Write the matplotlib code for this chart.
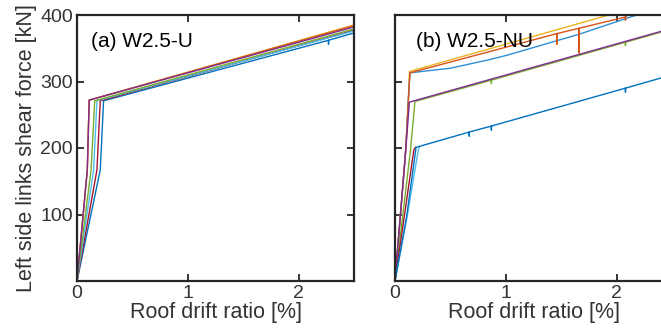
import matplotlib
matplotlib.use("Agg")
import matplotlib.pyplot as plt

plt.rcParams['font.family'] = ['Liberation Sans', 'DejaVu Sans']

# MATLAB default colour order
C_BLUE = '#0072BD'
C_ORANGE = '#D95319'
C_YELLOW = '#EDB120'
C_PURPLE = '#7E2F8E'
C_GREEN = '#77AC30'
C_LBLUE = '#4DBEEE'
C_RED = '#A2142F'

# ---------------- Panel (a) W2.5-U ----------------
a_yellow_x = [0, 0.093, 0.11, 2.5]
a_yellow_y = [0, 167, 272, 385]
a_orange_x = [0, 0.093, 0.11, 2.5]
a_orange_y = [0, 167, 272, 384]
a_purple_x = [0, 0.093, 0.11, 2.5]
a_purple_y = [0, 167, 272, 382]
a_green_x = [0, 0.127, 0.16, 2.5]
a_green_y = [0, 167, 271, 379]
a_lblue_x = [0, 0.15, 0.18, 2.5]
a_lblue_y = [0, 167, 271, 376]
a_red_x = [0, 0.18, 0.21, 2.5]
a_red_y = [0, 167, 271, 377]
a_blue_x = [0, 0.21, 0.24, 2.27, 2.27, 2.27, 2.5]
a_blue_y = [0, 167, 271, 362, 356, 362, 373]

# ---------------- Panel (b) W2.5-NU ----------------
b_yellow_x = [0, 0.097, 0.12, 0.13, 1.93]
b_yellow_y = [0, 197, 271, 315, 400]
b_orange_x = [0, 0.097, 0.12, 0.135, 1.46, 1.46, 1.46, 1.66, 1.66, 1.66, 2.08, 2.08, 2.08, 2.1]
b_orange_y = [0, 197, 271, 313, 372, 356, 372, 380, 343, 380, 397, 392, 397, 400]
b_blue1_x = [0, 0.097, 0.12, 0.135, 0.5, 0.83, 1.0, 1.66, 2.18]
b_blue1_y = [0, 197, 271, 313, 320, 332, 339, 371, 400]
b_purple_x = [0, 0.097, 0.13, 2.5]
b_purple_y = [0, 197, 269, 380]
b_green_x = [0, 0.14, 0.18, 0.87, 0.87, 0.87, 2.08, 2.08, 2.08, 2.5]
b_green_y = [0, 197, 270, 302, 297, 302, 359, 354, 359, 379]
b_red_x = [0, 0.17, 0.185]
b_red_y = [0, 197, 201]
b_lblue_x = [0, 0.11, 0.21, 0.22]
b_lblue_y = [0, 97, 197, 201]
b_blue2_x = [0, 0.105, 0.19, 0.67, 0.67, 0.67, 0.87, 0.87, 0.87, 2.08, 2.08, 2.08, 2.5]
b_blue2_y = [0, 97, 201, 224, 218, 224, 233, 227, 233, 290, 284, 290, 310]

x_ticks = [0, 1, 2]
y_ticks = [100, 200, 300, 400]
y_tick_labels = ['100', '200', '300', '400']

TXT = '#333333'
fig = plt.figure(figsize=(6.61, 3.33), dpi=100)
axA = fig.add_axes([77/661, 1-281/333, 277/661, 266/333])
axB = fig.add_axes([395/661, 1-281/333, 277/661, 266/333])

lw = 1.0
for x, y, c in [(a_yellow_x, a_yellow_y, C_YELLOW), (a_orange_x, a_orange_y, C_ORANGE),
                (a_blue_x, a_blue_y, C_BLUE), (a_red_x, a_red_y, C_RED),
                (a_lblue_x, a_lblue_y, C_LBLUE), (a_green_x, a_green_y, C_GREEN),
                (a_purple_x, a_purple_y, C_PURPLE)]:
    axA.plot(x, y, color=c, lw=lw)

for x, y, c in [(b_yellow_x, b_yellow_y, C_YELLOW), (b_blue1_x, b_blue1_y, '#2E8FD6'),
                (b_orange_x, b_orange_y, C_ORANGE),
                (b_green_x, b_green_y, C_GREEN), (b_purple_x, b_purple_y, C_PURPLE),
                (b_red_x, b_red_y, C_RED), (b_lblue_x, b_lblue_y, C_LBLUE),
                (b_blue2_x, b_blue2_y, C_BLUE)]:
    axB.plot(x, y, color=c, lw=lw)

for ax in (axA, axB):
    ax.set_xlim(0, 2.5)
    ax.set_ylim(0, 400)
    ax.set_xticks(x_ticks)
    ax.set_yticks(y_ticks)
    ax.tick_params(direction='in', length=5, width=1.3, colors='#262626',
                   labelcolor=TXT, labelsize=14, top=True, right=True, pad=3)
    for s in ax.spines.values():
        s.set_linewidth(1.6)
        s.set_color('#262626')
    ax.set_xlabel('Roof drift ratio [%]', fontsize=15.5, color=TXT, labelpad=0)

axA.set_yticklabels(y_tick_labels)
axB.set_yticklabels([])
axA.set_ylabel('Left side links shear force [kN]', fontsize=15.5, color=TXT, labelpad=2)

axA.text(0.05, 0.90, '(a) W2.5-U', transform=axA.transAxes, fontsize=15,
         color='black', va='center', ha='left')
axB.text(0.075, 0.90, '(b) W2.5-NU', transform=axB.transAxes, fontsize=15,
         color='black', va='center', ha='left')

fig.savefig('out.png', dpi=100)
